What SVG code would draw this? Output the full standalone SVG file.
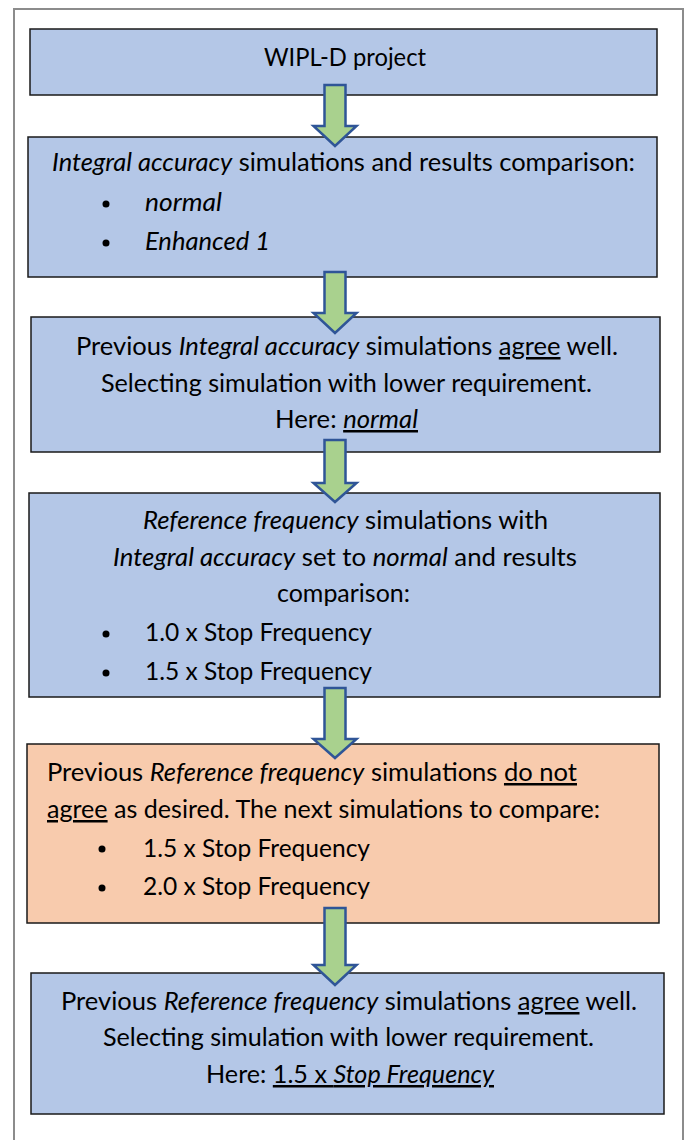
<svg xmlns="http://www.w3.org/2000/svg" width="685" height="1140" viewBox="0 0 685 1140">
<style>
.box{fill:#B4C7E7;stroke:#1a1a1a;stroke-width:1.5}
.org{fill:#F8CBAD;stroke:#1a1a1a;stroke-width:1.5}
.arr{fill:#A9D18E;stroke:#2F5597;stroke-width:2.5;stroke-linejoin:miter}
text{font-family:Lato,"Open Sans","Liberation Sans",sans-serif;font-size:25px;fill:#000}
.c{text-anchor:middle}
.i{font-style:italic}
.u{text-decoration:underline}
.b{fill:#000}
</style>
<rect x="14" y="9" width="669" height="1150" fill="#fff" stroke="#8c8c8c" stroke-width="2"/>
<g id="n1">
<rect class="box" x="30" y="29" width="627" height="66"/>
<text class="c" x="345" y="66" textLength="162" lengthAdjust="spacingAndGlyphs">WIPL-D project</text>
</g>
<g id="n2">
<rect class="box" x="28" y="137" width="629" height="140"/>
<text x="52" y="171" textLength="583" lengthAdjust="spacingAndGlyphs"><tspan class="i">Integral accuracy</tspan> simulations and results comparison:</text>
<circle class="b" cx="106" cy="204" r="3.5"/>
<text class="i" x="145" y="211" textLength="77" lengthAdjust="spacingAndGlyphs">normal</text>
<circle class="b" cx="106" cy="243" r="3.5"/>
<text class="i" x="145" y="250" textLength="125" lengthAdjust="spacingAndGlyphs">Enhanced 1</text>
</g>
<g id="n3">
<rect class="box" x="31" y="317" width="629" height="135"/>
<text class="c" x="347" y="355" textLength="542" lengthAdjust="spacingAndGlyphs">Previous <tspan class="i">Integral accuracy</tspan> simulations <tspan class="u">agree</tspan> well.</text>
<text class="c" x="346.5" y="392" textLength="491" lengthAdjust="spacingAndGlyphs">Selecting simulation with lower requirement.</text>
<text class="c" x="346.5" y="428" textLength="143" lengthAdjust="spacingAndGlyphs">Here: <tspan class="i u">normal</tspan></text>
</g>
<g id="n4">
<rect class="box" x="29" y="493" width="631" height="204"/>
<text class="c" x="345.5" y="529" textLength="405" lengthAdjust="spacingAndGlyphs"><tspan class="i">Reference frequency</tspan> simulations with</text>
<text class="c" x="345" y="566" textLength="464" lengthAdjust="spacingAndGlyphs"><tspan class="i">Integral accuracy</tspan> set to <tspan class="i">normal</tspan> and results</text>
<text class="c" x="343.5" y="602" textLength="133" lengthAdjust="spacingAndGlyphs">comparison:</text>
<circle class="b" cx="106" cy="634" r="3.5"/>
<text x="145" y="641" textLength="227" lengthAdjust="spacingAndGlyphs">1.0 x Stop Frequency</text>
<circle class="b" cx="106" cy="673" r="3.5"/>
<text x="145" y="680" textLength="227" lengthAdjust="spacingAndGlyphs">1.5 x Stop Frequency</text>
</g>
<g id="n5">
<rect class="org" x="27" y="744" width="632" height="179"/>
<text x="47" y="781" textLength="530" lengthAdjust="spacingAndGlyphs">Previous <tspan class="i">Reference frequency</tspan> simulations <tspan class="u">do not</tspan></text>
<text x="47" y="818" textLength="553" lengthAdjust="spacingAndGlyphs"><tspan class="u">agree</tspan> as desired. The next simulations to compare:</text>
<circle class="b" cx="102" cy="849" r="3.5"/>
<text x="143" y="857" textLength="227" lengthAdjust="spacingAndGlyphs">1.5 x Stop Frequency</text>
<circle class="b" cx="102" cy="888" r="3.5"/>
<text x="143" y="895" textLength="227" lengthAdjust="spacingAndGlyphs">2.0 x Stop Frequency</text>
</g>
<g id="n6">
<rect class="box" x="31" y="973" width="633" height="141"/>
<text class="c" x="349" y="1010" textLength="576" lengthAdjust="spacingAndGlyphs">Previous <tspan class="i">Reference frequency</tspan> simulations <tspan class="u">agree</tspan> well.</text>
<text class="c" x="348.5" y="1046" textLength="491" lengthAdjust="spacingAndGlyphs">Selecting simulation with lower requirement.</text>
<text class="c" x="350" y="1083" textLength="288" lengthAdjust="spacingAndGlyphs">Here: <tspan class="u">1.5 x <tspan class="i">Stop Frequency</tspan></tspan></text>
</g>
<g id="connectors">
<path class="arr" d="M324.5,85 H345.5 V126 H356.5 L335,146 L313.5,126 H324.5 Z"/>
<path class="arr" d="M324.5,272 H345.5 V313 H356.5 L335,333 L313.5,313 H324.5 Z"/>
<path class="arr" d="M324.5,440 H345.5 V483 H356.5 L335,502 L313.5,483 H324.5 Z"/>
<path class="arr" d="M324.5,688 H345.5 V739 H356.5 L335,758 L313.5,739 H324.5 Z"/>
<path class="arr" d="M324.5,908 H345.5 V965 H356.5 L335,985 L313.5,965 H324.5 Z"/>
</g>
</svg>
